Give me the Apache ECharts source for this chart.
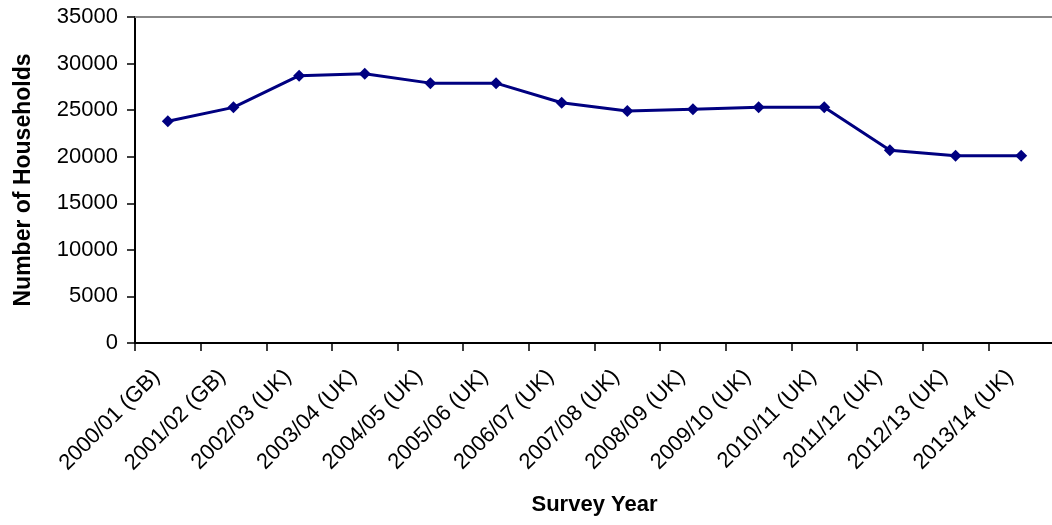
<!DOCTYPE html>
<html>
<head>
<meta charset="utf-8">
<script src="https://cdn.jsdelivr.net/npm/echarts@6/dist/echarts.min.js"></script>
<style>
  html, body { margin: 0; padding: 0; background: #fff; }
  #chart { width: 1052px; height: 525px; }
</style>
</head>
<body>
<div id="chart"></div>
<script>
// Households surveyed per year
var surveyYears = [
  '2000/01 (GB)', '2001/02 (GB)', '2002/03 (UK)', '2003/04 (UK)', '2004/05 (UK)',
  '2005/06 (UK)', '2006/07 (UK)', '2007/08 (UK)', '2008/09 (UK)', '2009/10 (UK)',
  '2010/11 (UK)', '2011/12 (UK)', '2012/13 (UK)', '2013/14 (UK)'
];
var households = [
  23800, 25300, 28700, 28900, 27900,
  27900, 25800, 24900, 25100, 25300,
  25300, 20700, 20100, 20100
];
var yTicks = { min: 0, max: 35000, step: 5000 };

var font = 'Liberation Sans, Arial, sans-serif';
var chart = echarts.init(document.getElementById('chart'));
chart.setOption({
  animation: false,
  backgroundColor: '#ffffff',
  grid: {
    left: 135, top: 17, width: 919, height: 326,
    containLabel: false, outerBoundsMode: 'none'
  },
  xAxis: [{
    type: 'category',
    data: surveyYears,
    boundaryGap: true,
    name: 'Survey Year',
    nameLocation: 'middle',
    nameGap: 151,
    nameTextStyle: { fontFamily: font, fontSize: 22, fontWeight: 'bold', color: '#000' },
    axisLine: { lineStyle: { color: '#000', width: 2 } },
    axisTick: { show: true, alignWithLabel: false, length: 8, lineStyle: { color: '#000', width: 1.5 } },
    axisLabel: {
      rotate: 45, interval: 0, margin: 19,
      padding: [0, 16, 0, 0],
      fontFamily: font, fontSize: 22, color: '#000'
    },
    splitLine: { show: false }
  }, {
    type: 'category',
    data: surveyYears,
    position: 'top',
    axisLine: { lineStyle: { color: '#888', width: 2 } },
    axisTick: { show: false },
    axisLabel: { show: false },
    splitLine: { show: false }
  }],
  yAxis: {
    type: 'value',
    min: yTicks.min,
    max: yTicks.max,
    interval: yTicks.step,
    name: 'Number of Households',
    nameLocation: 'middle',
    nameGap: 100,
    nameRotate: 90,
    nameTextStyle: { fontFamily: font, fontSize: 23, fontWeight: 'bold', color: '#000' },
    axisLine: { show: true, lineStyle: { color: '#000', width: 2 } },
    axisTick: { show: true, length: 8, lineStyle: { color: '#000', width: 1.5 } },
    axisLabel: {
      fontFamily: font, fontSize: 22, color: '#000', margin: 17,
      formatter: function (v) { return String(v); }
    },
    splitLine: { show: false }
  },
  series: [{
    type: 'line',
    data: households,
    xAxisIndex: 0,
    color: '#000080',
    lineStyle: { color: '#000080', width: 3 },
    itemStyle: { color: '#000080' },
    symbol: 'diamond',
    symbolSize: 12,
    showAllSymbol: true
  }]
});
</script>
</body>
</html>
